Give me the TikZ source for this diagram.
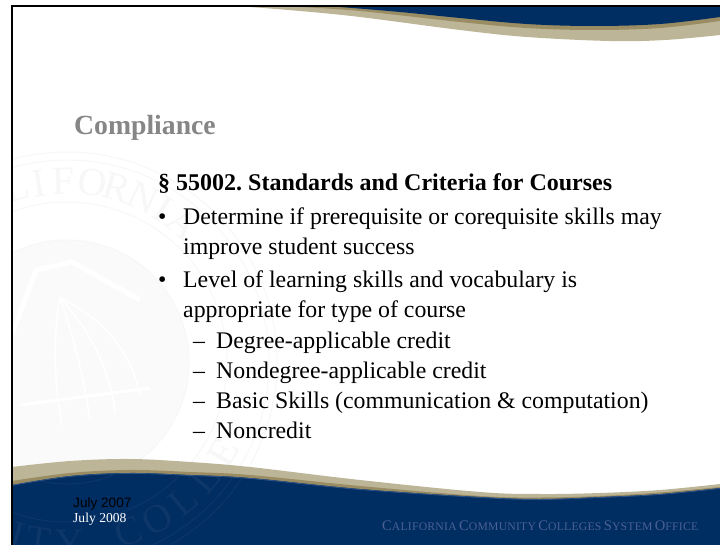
\documentclass[tikz,border=0pt]{standalone}
\usepackage{fontspec}
\usepackage{graphicx}
\setmainfont{Liberation Serif}
\newfontfamily\arialfont{Liberation Sans}
\newfontfamily\officefont[LetterSpace=2]{Liberation Serif}
\frenchspacing
\definecolor{navyband}{HTML}{002D62}
\definecolor{navyedge}{HTML}{2E5387}
\definecolor{tanband}{HTML}{BDB597}
\definecolor{brownband}{HTML}{9A8C63}
\definecolor{sealgrey}{HTML}{F7F7F7}
\definecolor{sealnavy}{HTML}{0D3669}
\definecolor{titlegrey}{HTML}{868686}
\definecolor{officeblue}{HTML}{4C6194}
\newcommand{\sealart}[1]{%
  \begin{scope}[draw=#1,line width=1pt]
    \draw (67,362) circle[radius=210];
    \draw (67,362) circle[radius=202];
    \draw (67,362) circle[radius=160];
    \draw (67,362) circle[radius=122];
    \foreach \ch/\ang in {L/-16,I/-9,F/-1,O/8,R/16,N/25,I/32,A/40}{
      \node[sealletter,text=#1,rotate=-\ang] at ({67+181*sin(\ang)},{362-181*cos(\ang)}) {\ch};
    }
    \foreach \ch/\ang in {I/-16,T/-9,Y/1,C/20,O/30,L/40,L/50,E/60}{
      \node[sealletter,text=#1,rotate=\ang] at ({67+181*sin(\ang)},{362+181*cos(\ang)}) {\ch};
    }
  \end{scope}}
\tikzset{
  x=1pt,y=-1pt,
  sealletter/.style={inner sep=0pt,font=\fontsize{40}{40}\selectfont},
  bodytext/.style={anchor=base west,inner sep=0pt,font=\fontsize{23.8}{26}\selectfont,text=black},
  fanline/.style={draw=white,line width=1.6pt},
}
\begin{document}
\begin{tikzpicture}
\useasboundingbox (0,0) rectangle (720,545);
\fill[white] (0,0) rectangle (720,545);
% watermark
\begin{scope}
  \clip (12,7) rectangle (720,545);
  \fill[black!2] (67,362) circle[radius=122];
  \sealart{sealgrey}
  \draw[fanline,line width=5pt] (12,335) -- (36,270) -- (72,262) -- (140,300);
  \draw[fanline] (60,298) .. controls (52,340) and (55,390) .. (62,425);
  \draw[fanline] (60,298) .. controls (75,340) and (85,385) .. (90,420);
  \draw[fanline] (60,298) .. controls (90,330) and (110,370) .. (115,412);
  \draw[fanline] (60,298) .. controls (105,320) and (130,350) .. (140,395);
  \draw[fanline,line width=3pt] (20,405) -- (150,388);
\end{scope}
% top band
\fill[tanband] plot[smooth,tension=.6] coordinates {(250,7) (300,11) (360,17) (460,30) (527,37) (610,41) (665,40) (720,35)} -- (720,7) -- cycle;
\fill[brownband] plot[smooth,tension=.6] coordinates {(300,7) (360,11) (460,22) (527,28) (593,30) (660,28) (720,21)} -- (720,7) -- cycle;
\fill[navyband] plot[smooth,tension=.6] coordinates {(340,7) (400,12) (460,18) (527,24) (593,26) (660,24) (720,17)} -- (720,7) -- cycle;
% bottom band
\fill[tanband] plot[smooth,tension=.6] coordinates {(12,467) (70,461) (130,459) (190,462) (250,467) (360,480) (480,492) (540,494) (600,493) (660,490) (720,484)} -- (720,545) -- (12,545) -- cycle;
\fill[brownband] plot[smooth,tension=.6] coordinates {(12,481) (70,473) (130,470) (190,472) (250,475) (360,486) (480,496) (540,497.5) (600,496) (660,492.5) (720,487)} -- (720,545) -- (12,545) -- cycle;
\fill[navyband] plot[smooth,tension=.6] coordinates {(12,485) (70,476) (130,473) (190,475) (250,478) (360,489) (480,497) (540,499) (600,497) (660,494) (720,488)} -- (720,545) -- (12,545) -- cycle;
\draw[navyedge,line width=.8pt] plot[smooth,tension=.6] coordinates {(12,485.5) (70,476.5) (130,473.5) (190,475.5) (250,478.5) (360,489.5) (480,497.5) (540,499.5) (600,497.5) (660,494.5) (720,488.5)};
\begin{scope}
  \clip plot[smooth,tension=.6] coordinates {(12,486) (70,477) (130,474) (190,476) (250,479) (360,490) (480,498) (540,500) (600,498) (660,495) (720,489)} -- (720,545) -- (12,545) -- cycle;
  \sealart{sealnavy}
\end{scope}
% frame
\fill[black] (10.5,5) rectangle (720,7);
\fill[black] (10.5,5) rectangle (12.5,545);
% text
\node[anchor=base west,inner sep=0pt,font=\bfseries\fontsize{27.7}{30}\selectfont,text=titlegrey] (title) at (74,135) {Compliance};
\node[bodytext,font=\bfseries\fontsize{24}{26}\selectfont] (head) at (158,191) {§ 55002. Standards and Criteria for Courses};
\node[bodytext] (b1) at (158,225) {•};
\node[bodytext] (l1) at (183,225) {Determine if prerequisite or corequisite skills may};
\node[bodytext] (l2) at (183,255) {improve student success};
\node[bodytext] (b2) at (158,288) {•};
\node[bodytext] (l3) at (183,288) {Level of learning skills and vocabulary is};
\node[bodytext] (l4) at (183,317) {appropriate for type of course};
\node[bodytext] (d1) at (193,348) {–};
\node[bodytext] (s1) at (216,348) {Degree-applicable credit};
\node[bodytext] (d2) at (193,378) {–};
\node[bodytext] (s2) at (216,378) {Nondegree-applicable credit};
\node[bodytext] (d3) at (193,408) {–};
\node[bodytext] (s3) at (216,408) {Basic Skills (communication \& computation)};
\node[bodytext] (d4) at (193,438) {–};
\node[bodytext] (s4) at (216,438) {Noncredit};
\node[anchor=base west,inner sep=0pt,font=\arialfont\fontsize{13.6}{14}\selectfont,text=black] (date1) at (73,507) {July 2007};
\node[anchor=base west,inner sep=0pt,font=\fontsize{13.6}{14}\selectfont,text=white] (date2) at (73,522) {July 2008};
\newcommand{\capsm}[2]{{\officefont\fontsize{15}{15}\selectfont #1}{\officefont\fontsize{12}{12}\selectfont #2}}
\node[anchor=base west,inner sep=0pt,text=officeblue] (office) at (382,530) {\resizebox{316pt}{!}{\capsm{C}{ALIFORNIA} \capsm{C}{OMMUNITY} \capsm{C}{OLLEGES} \capsm{S}{YSTEM} \capsm{O}{FFICE}}};
\end{tikzpicture}
\end{document}
